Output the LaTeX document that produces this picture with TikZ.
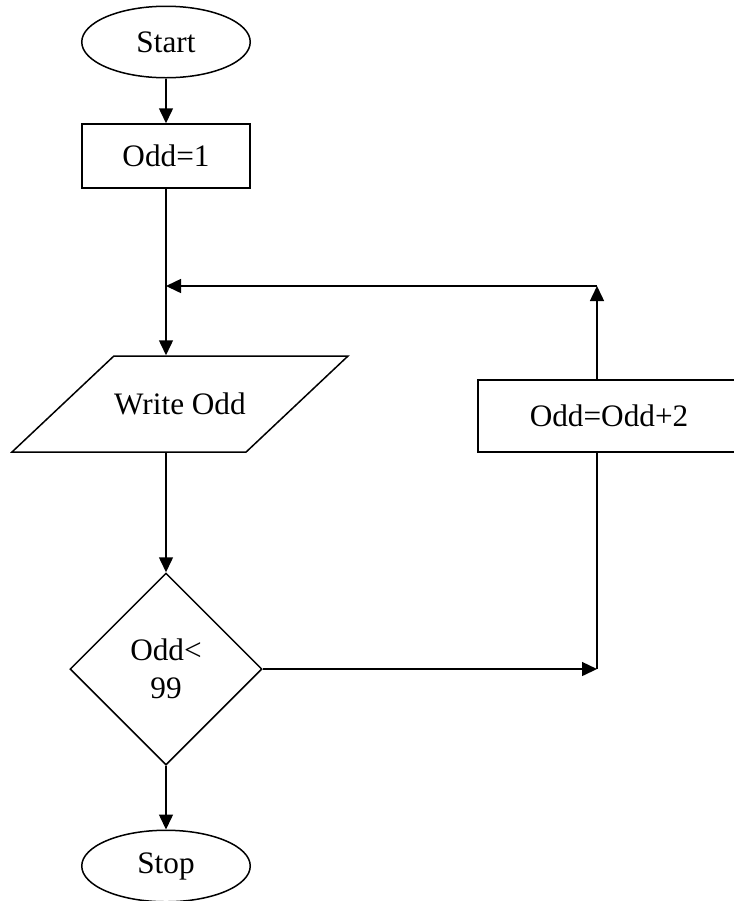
\documentclass[tikz,border=0pt]{standalone}
\usepackage{fontspec}
\setmainfont{Liberation Serif}
\usetikzlibrary{arrows.meta}
\usetikzlibrary{shapes.geometric}

\begin{document}
\begin{tikzpicture}[->,>={Triangle[length=6pt,width=5.6pt]},semithick,
                x=0.4pt,y=-0.4pt,font=\fontsize{12.5}{15}\selectfont,
                end node/.style={ellipse,draw,inner sep=0pt,minimum width=67.4pt,minimum height=28.6pt},
                box node/.style={rectangle,draw,inner sep=0pt},
                io node/.style={trapezium,draw,trapezium left angle=43.3,trapezium right angle=136.7,
                  trapezium stretches body,text height=8.6pt,text depth=0pt,inner ysep=14.9pt,
                  inner xsep=0pt,minimum width=134.4pt},
                test node/.style={diamond,draw,align=center,inner sep=0pt,minimum size=76.8pt}]

  \useasboundingbox (0,0) rectangle (734,901);

  \node[end node] (start) at (166,42) {Start};
  \node[box node,minimum width=67.2pt,minimum height=25.6pt] (init) [below of=start,node distance=45.6pt] {Odd=1};
  \node[io node] (write) [below of=init,node distance=99.2pt,xshift=5.6pt] {Write Odd};
  \node[test node] (test) [below of=write,node distance=106pt,xshift=-5.6pt] {Odd<\\99};
  \node[end node] (stop) [below of=test,node distance=78.8pt] {Stop};
  \node[box node,minimum width=104.8pt,minimum height=28.8pt] (incr) [right of=write,node distance=171.6pt,yshift=-4.8pt] {Odd=Odd+2};

  \coordinate (merge) at (166,286);
  \coordinate (back) at (597,286);
  \coordinate (turn) at (test.east -| back);

  \path
    (start) edge (init)
    (init) edge (init |- write.north)
    (test |- write.south) edge (test)
    (test) edge (stop)
           edge (turn)
    (turn |- incr.south) edge [-] (turn)
    (back |- incr.north) edge (back)
    (back) edge (merge);
\end{tikzpicture}
\end{document}
